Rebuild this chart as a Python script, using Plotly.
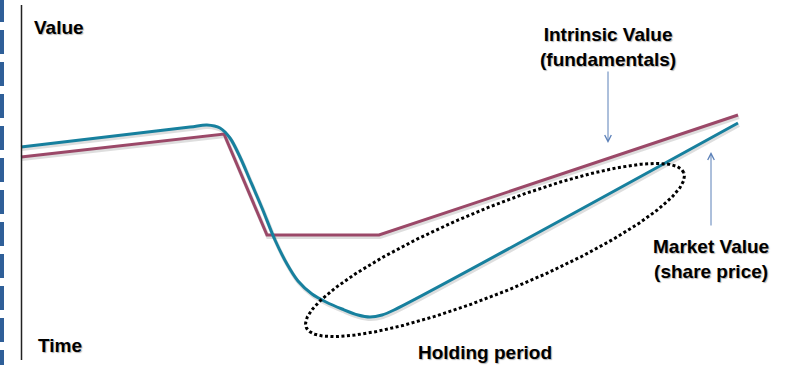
import numpy as np
import plotly.graph_objects as go

# ---- data (time in arbitrary units, value in arbitrary units) ----
market_time = [21, 190, 207, 220, 230, 240, 250, 262, 275, 287,
               298, 312, 326, 342, 358, 370, 382, 394, 738]
market_value = [218, 238, 240, 237, 227, 208, 185, 157, 125, 101,
               84, 71, 63, 56, 50, 48, 50, 55, 242]

intrinsic_time = [21, 224, 267, 379, 738]
intrinsic_value = [208, 231, 130, 130, 250]

# holding-period ellipse (centre, semi-axes, tilt in degrees)
ell_center = (495, 115)
ell_axes = (204, 42)
ell_tilt = 22.3

TEAL = "#17809E"
MAROON = "#9B4868"
ARROW = "#5B80B8"
FONT = "Liberation Sans, Arial, sans-serif"

fig = go.Figure()

# soft shadows
fig.add_trace(go.Scatter(x=[a + 1 for a in intrinsic_time], y=[b - 2 for b in intrinsic_value],
                         mode="lines", line=dict(color="rgba(0,0,0,0.13)", width=4),
                         hoverinfo="skip"))
fig.add_trace(go.Scatter(x=[a + 1 for a in market_time], y=[b - 2 for b in market_value],
                         mode="lines", line=dict(color="rgba(0,0,0,0.13)", width=4,
                                                 shape="spline", smoothing=0.9),
                         hoverinfo="skip"))

fig.add_trace(go.Scatter(x=intrinsic_time, y=intrinsic_value, mode="lines",
                         name="Intrinsic Value", line=dict(color=MAROON, width=3)))
fig.add_trace(go.Scatter(x=market_time, y=market_value, mode="lines",
                         name="Market Value",
                         line=dict(color=TEAL, width=3, shape="spline", smoothing=0.9)))

# dotted ellipse
th = np.linspace(0, 2 * np.pi, 400)
ang = np.deg2rad(ell_tilt)
u = ell_axes[0] * np.cos(th)
w = ell_axes[1] * np.sin(th)
ex = ell_center[0] + u * np.cos(ang) - w * np.sin(ang)
ey = ell_center[1] + u * np.sin(ang) + w * np.cos(ang)
fig.add_trace(go.Scatter(x=ex, y=ey, mode="lines",
                         line=dict(color="black", width=3, dash="3px,2.5px"),
                         hoverinfo="skip"))

# vertical axis line
fig.add_shape(type="line", x0=21.5, x1=21.5, y0=5, y1=360, xref="x", yref="y",
              line=dict(color="#222222", width=1.5))
# dashed blue bar at left edge
fig.add_shape(type="line", x0=2, x1=2, y0=367, y1=0, xref="x", yref="y",
              line=dict(color="#2F5F98", width=4, dash="24px,8px"))

tf = dict(family=FONT, size=19, color="black", shadow="1px 1px 1px rgba(0,0,0,0.3)")
labels = [
    ("<b>Value</b>", 59, 338),
    ("<b>Time</b>", 60, 20),
    ("<b>Intrinsic Value<br>(fundamentals)</b>", 608, 318),
    ("<b>Market Value<br>(share price)</b>", 711, 106),
    ("<b>Holding period</b>", 485, 13),
]
for txt, x, y in labels:
    fig.add_annotation(text=txt, x=x, y=y, xref="x", yref="y", showarrow=False,
                       xanchor="center", yanchor="middle", align="center", font=tf)

# arrows
fig.add_annotation(x=608, y=222, ax=608, ay=295, xref="x", yref="y", axref="x", ayref="y",
                   text="", showarrow=True, arrowhead=5, arrowsize=1.3, arrowwidth=1,
                   arrowcolor=ARROW)
fig.add_annotation(x=711, y=213, ax=711, ay=138, xref="x", yref="y", axref="x", ayref="y",
                   text="", showarrow=True, arrowhead=5, arrowsize=1.3, arrowwidth=1,
                   arrowcolor=ARROW)

fig.update_layout(width=797, height=365, autosize=False,
                  margin=dict(l=0, r=0, t=0, b=0),
                  paper_bgcolor="white", plot_bgcolor="white", showlegend=False,
                  xaxis=dict(range=[0, 797], visible=False, fixedrange=True),
                  yaxis=dict(range=[0, 365], visible=False, fixedrange=True))

fig.write_html("out.html", config={"displayModeBar": False})
